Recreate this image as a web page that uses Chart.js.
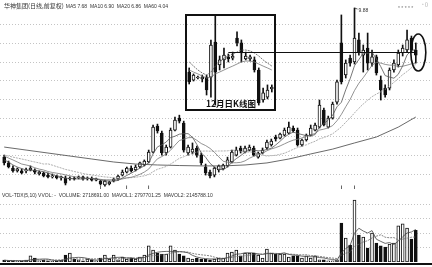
<!DOCTYPE html>
<html>
<head>
<meta charset="utf-8">
<script src="https://cdn.jsdelivr.net/npm/chart.js@4.4.1/dist/chart.umd.min.js"></script>
<style>
  html, body { margin: 0; padding: 0; background: #fff; }
  body { width: 432px; height: 267px; position: relative; overflow: hidden; }
  #main { position: absolute; left: 0; top: 0; }
  #vol { position: absolute; left: 0; top: 190px; }
  #inset { position: absolute; left: 185px; top: 14px; width: 87px; height: 93px; border: 2px solid #111; background: #fff; }
  #inset canvas { display: block; }
</style>
</head>
<body>
<canvas id="main" width="432" height="190"></canvas>
<canvas id="vol" width="432" height="77"></canvas>
<div id="inset"><canvas id="dec" width="87" height="93"></canvas></div>
<script>
// daily bars, price in yuan
const opens = [
  1.89, 1.58, 1.31, 1.15, 1.15, 1.15, 1.20, 1.20, 0.99, 1.04,
  0.93, 0.83, 0.88, 0.77, 0.77, 0.72, 0.77, 0.77, 0.83, 0.72,
  0.77, 0.66, 0.61, 0.40, 0.45, 0.61, 0.72, 0.93, 1.09, 1.31,
  1.20, 1.36, 1.47, 1.63, 2.16, 3.56, 3.18, 2.11, 2.43, 3.34,
  3.98, 3.72, 2.11, 2.16, 2.38, 2.00, 1.36, 1.09, 0.93, 1.20,
  1.26, 1.42, 1.63, 2.00, 2.38, 2.16, 2.27, 2.38, 1.89, 2.11,
  2.38, 2.54, 2.97, 2.91, 3.07, 3.18, 3.45, 3.34, 2.54, 2.81,
  3.07, 3.34, 3.50, 4.41, 3.50, 3.98, 4.84, 8.01, 6.29, 7.20,
  6.99, 8.17, 7.36, 7.74, 6.93, 7.26, 6.02, 5.59, 5.59, 6.56,
  6.83, 7.47, 7.63, 8.27, 7.63,
];
const highs = [
  2.00, 1.68, 1.42, 1.31, 1.26, 1.31, 1.42, 1.26, 1.15, 1.09,
  1.04, 0.99, 0.93, 0.88, 0.88, 0.83, 0.83, 0.88, 0.88, 0.83,
  0.83, 0.77, 0.66, 0.66, 0.61, 0.77, 0.93, 1.20, 1.36, 1.42,
  1.47, 1.63, 1.74, 2.27, 3.61, 3.66, 3.29, 2.54, 3.45, 4.04,
  4.14, 3.82, 2.54, 2.65, 2.48, 2.11, 1.52, 1.20, 1.36, 1.47,
  1.52, 1.89, 2.27, 2.43, 2.48, 2.48, 2.54, 2.48, 2.16, 2.38,
  2.81, 2.86, 3.07, 3.18, 3.45, 3.77, 3.56, 3.45, 2.86, 3.13,
  3.61, 3.72, 4.95, 4.52, 4.09, 4.84, 6.02, 9.51, 7.10, 7.36,
  9.88, 8.54, 7.90, 8.54, 7.63, 7.36, 6.24, 5.76, 6.67, 7.10,
  7.63, 7.90, 8.70, 8.38, 8.01,
];
const lows = [
  1.47, 1.31, 1.09, 1.09, 0.99, 1.04, 1.15, 0.99, 0.93, 0.83,
  0.77, 0.77, 0.72, 0.66, 0.40, 0.66, 0.66, 0.72, 0.66, 0.66,
  0.61, 0.61, 0.40, 0.34, 0.40, 0.56, 0.66, 0.88, 1.04, 1.09,
  1.15, 1.31, 1.42, 1.58, 2.11, 3.18, 2.00, 2.00, 2.38, 3.29,
  3.72, 2.16, 2.00, 2.06, 1.89, 1.47, 0.93, 0.77, 0.83, 1.09,
  1.20, 1.36, 1.58, 1.95, 2.11, 2.11, 2.22, 1.95, 1.84, 2.06,
  2.32, 2.48, 2.75, 2.86, 3.02, 3.13, 3.23, 2.48, 2.48, 2.75,
  3.02, 3.29, 3.45, 3.56, 3.45, 3.93, 4.73, 5.81, 6.13, 6.77,
  6.88, 7.36, 6.45, 6.56, 6.77, 6.29, 4.95, 5.11, 5.49, 6.45,
  6.72, 7.31, 7.52, 7.52, 6.93,
];
const closes = [
  1.58, 1.36, 1.15, 1.26, 1.04, 1.20, 1.31, 1.09, 1.09, 0.88,
  0.83, 0.88, 0.77, 0.83, 0.50, 0.77, 0.72, 0.83, 0.72, 0.77,
  0.66, 0.72, 0.45, 0.61, 0.56, 0.72, 0.88, 1.09, 1.31, 1.15,
  1.36, 1.58, 1.68, 2.16, 3.50, 3.29, 2.11, 2.43, 3.34, 3.88,
  3.82, 2.27, 2.43, 2.32, 2.00, 1.58, 1.04, 0.88, 1.31, 1.42,
  1.47, 1.74, 2.16, 2.27, 2.22, 2.38, 2.43, 2.00, 2.11, 2.27,
  2.70, 2.75, 2.86, 3.13, 3.34, 3.50, 3.29, 2.54, 2.81, 3.07,
  3.45, 3.61, 4.68, 3.61, 3.98, 4.73, 5.92, 5.92, 6.93, 6.93,
  8.27, 7.52, 7.63, 6.93, 7.26, 6.40, 5.49, 5.22, 6.56, 6.93,
  7.47, 7.74, 8.17, 7.63, 7.36,
];
// volume in 万股
const volumes = [
  17, 9, 9, 7, 9, 17, 52, 34, 10, 17,
  10, 8, 10, 17, 60, 77, 26, 18, 10, 26,
  18, 10, 34, 60, 26, 60, 18, 43, 26, 34,
  26, 43, 60, 138, 103, 77, 69, 69, 138, 103,
  69, 52, 34, 26, 34, 26, 26, 18, 26, 34,
  34, 77, 86, 103, 52, 77, 77, 77, 60, 34,
  112, 77, 69, 69, 69, 43, 52, 52, 34, 52,
  34, 52, 18, 18, 10, 10, 18, 335, 206, 146,
  533, 232, 215, 120, 249, 163, 138, 129, 155, 163,
  310, 327, 292, 198, 272,
];
const ma5 = [
  1.74, 1.63, 1.47, 1.36, 1.28, 1.20, 1.19, 1.18, 1.15, 1.11,
  1.04, 0.95, 0.89, 0.84, 0.76, 0.75, 0.72, 0.73, 0.71, 0.76,
  0.74, 0.74, 0.66, 0.64, 0.60, 0.61, 0.64, 0.77, 0.91, 1.03,
  1.16, 1.30, 1.42, 1.59, 2.06, 2.44, 2.55, 2.70, 2.94, 3.01,
  3.12, 3.15, 3.15, 2.95, 2.57, 2.12, 1.88, 1.56, 1.36, 1.24,
  1.22, 1.36, 1.62, 1.81, 1.97, 2.15, 2.29, 2.26, 2.23, 2.24,
  2.30, 2.37, 2.54, 2.74, 2.96, 3.12, 3.23, 3.16, 3.10, 3.04,
  3.03, 3.10, 3.52, 3.69, 3.87, 4.13, 4.59, 4.83, 5.50, 6.09,
  6.79, 7.12, 7.46, 7.46, 7.52, 7.15, 6.74, 6.26, 6.18, 6.12,
  6.33, 6.78, 7.37, 7.59, 7.67,
];
const ma10 = [
  1.95, 1.84, 1.74, 1.63, 1.52, 1.47, 1.41, 1.32, 1.25, 1.20,
  1.12, 1.07, 1.03, 0.99, 0.94, 0.89, 0.84, 0.81, 0.77, 0.76,
  0.74, 0.73, 0.70, 0.67, 0.68, 0.67, 0.69, 0.72, 0.78, 0.81,
  0.88, 0.97, 1.09, 1.25, 1.54, 1.80, 1.92, 2.06, 2.26, 2.53,
  2.78, 2.85, 2.93, 2.94, 2.79, 2.62, 2.51, 2.36, 2.15, 1.91,
  1.67, 1.62, 1.59, 1.59, 1.61, 1.69, 1.83, 1.94, 2.02, 2.10,
  2.23, 2.33, 2.40, 2.49, 2.60, 2.71, 2.80, 2.85, 2.92, 3.00,
  3.08, 3.16, 3.34, 3.39, 3.46, 3.58, 3.84, 4.18, 4.59, 4.98,
  5.46, 5.85, 6.15, 6.48, 6.81, 6.97, 6.93, 6.86, 6.82, 6.82,
  6.74, 6.76, 6.82, 6.89, 6.90,
];
const ma20 = [
  2.00, 1.95, 1.89, 1.84, 1.79, 1.74, 1.68, 1.63, 1.58, 1.52,
  1.53, 1.46, 1.38, 1.31, 1.23, 1.18, 1.12, 1.07, 1.01, 0.97,
  0.93, 0.90, 0.86, 0.83, 0.81, 0.78, 0.76, 0.76, 0.77, 0.79,
  0.81, 0.85, 0.89, 0.96, 1.11, 1.24, 1.31, 1.39, 1.52, 1.67,
  1.83, 1.91, 2.01, 2.10, 2.16, 2.21, 2.22, 2.21, 2.21, 2.22,
  2.22, 2.23, 2.26, 2.26, 2.20, 2.15, 2.17, 2.15, 2.08, 2.00,
  1.95, 1.97, 1.99, 2.04, 2.10, 2.20, 2.31, 2.40, 2.47, 2.55,
  2.65, 2.74, 2.87, 2.94, 3.03, 3.14, 3.32, 3.51, 3.76, 3.99,
  4.26, 4.51, 4.74, 4.94, 5.13, 5.27, 5.39, 5.52, 5.71, 5.90,
  6.10, 6.31, 6.48, 6.68, 6.85,
];
// MA60 read every 5 days
const ma60Days = [1, 6, 11, 16, 21, 26, 31, 36, 41, 46, 51, 56, 61, 66, 71, 76, 81, 86, 91, 95];
const ma60 = [2.43, 2.27, 2.11, 1.95, 1.79, 1.63, 1.52, 1.47, 1.44, 1.42, 1.42, 1.47, 1.58, 1.79, 2.06, 2.32, 2.65, 2.97, 3.50, 4.04];
const mavol1 = [
  15, 13, 12, 11, 10, 10, 19, 24, 24, 26,
  25, 16, 11, 12, 21, 34, 38, 40, 38, 31,
  20, 16, 20, 30, 30, 38, 40, 41, 35, 36,
  29, 34, 38, 60, 74, 84, 89, 91, 91, 91,
  90, 86, 79, 57, 43, 34, 29, 26, 26, 26,
  28, 38, 51, 67, 70, 79, 79, 77, 69, 65,
  72, 72, 70, 72, 79, 65, 60, 57, 50, 47,
  45, 45, 38, 35, 26, 22, 15, 78, 116, 143,
  248, 290, 266, 249, 270, 196, 177, 160, 167, 150,
  179, 217, 249, 258, 280,
];
const mavol2 = [
  14, 13, 13, 12, 11, 11, 14, 17, 17, 18,
  18, 18, 18, 18, 24, 30, 27, 26, 25, 26,
  27, 27, 30, 34, 31, 29, 28, 31, 33, 33,
  34, 37, 40, 48, 55, 57, 62, 65, 76, 83,
  87, 88, 85, 74, 67, 62, 58, 53, 42, 35,
  31, 34, 39, 47, 48, 54, 59, 64, 68, 68,
  76, 76, 74, 71, 72, 69, 66, 64, 61, 63,
  55, 53, 48, 43, 37, 34, 30, 58, 76, 85,
  135, 153, 172, 183, 207, 222, 234, 213, 208, 210,
  188, 197, 205, 213, 215,
];

// december close-up shown in the box
const decOpens = [6.45, 6.02, 6.13, 6.08, 6.18, 6.18, 8.06, 6.83, 7.10, 7.26, 7.20, 8.27, 8.01, 7.15, 7.15, 7.10, 6.56, 4.95, 5.11, 5.54];
const decHighs = [6.67, 6.35, 6.24, 6.29, 6.29, 8.17, 9.51, 7.31, 7.74, 7.42, 7.52, 8.60, 8.17, 7.52, 7.36, 7.26, 6.67, 5.59, 5.76, 5.76];
const decLows = [5.81, 5.97, 6.08, 5.92, 5.22, 5.11, 4.68, 6.56, 6.67, 6.99, 7.10, 7.85, 6.99, 7.10, 7.04, 6.45, 4.68, 4.84, 5.01, 5.38];
const decCloses = [5.92, 6.29, 6.18, 6.18, 5.49, 7.90, 6.45, 7.10, 7.36, 7.15, 7.31, 8.01, 7.47, 7.31, 7.26, 6.56, 4.79, 5.33, 5.49, 5.65];
const decMaFast = [6.99, 6.77, 6.56, 6.40, 6.29, 6.45, 6.77, 6.99, 7.20, 7.31, 7.42, 7.52, 7.63, 7.63, 7.58, 7.47, 7.31, 7.10, 6.93, 6.77];
const decMaSlow = [6.56, 6.45, 6.35, 6.24, 6.13, 6.18, 6.35, 6.45, 6.56, 6.67, 6.77, 6.88, 6.99, 7.04, 7.04, 6.99, 6.88, 6.77, 6.67, 6.56];

const priceGrid = [1, 2, 3, 4, 5, 6, 7, 8, 9];
const volGrid = [125, 250, 375, 500];
const markLevel = 7.52;
const signalDays = [23, 29, 34, 78, 81];

const titleText = "华神集团(日线,前复权)";
const maText = "MA5 7.68  MA10 6.90  MA20 6.86  MA60 4.04";
const volText = "VOL-TDX(5,10) VVOL: -  VOLUME: 2718691.00  MAVOL1: 2797701.25  MAVOL2: 2145788.10";
const boxTitle = "12月日K线图";

const INK = "#111";
const days = closes.map((c, i) => String(i + 1));
const decDays = decCloses.map((c, i) => "12-" + (i + 1));

let candle_sets = (o, h, l, c) => [
  {
    type: "bar",
    data: o.map((v, i) => [v, c[i]]),
    backgroundColor: o.map((v, i) => (c[i] >= v ? "#fff" : INK)),
    borderColor: INK,
    borderWidth: 1,
    borderSkipped: false,
    barThickness: 3,
    minBarLength: 1,
    grouped: false,
    order: 1,
  },
  {
    type: "bar",
    data: l.map((v, i) => [v, h[i]]),
    backgroundColor: INK,
    barThickness: 1,
    grouped: false,
    order: 2,
  },
];

let ma_line = (data, color, dash) => ({
  type: "line",
  data: data,
  borderColor: color,
  borderWidth: 0.8,
  borderDash: dash || [],
  pointRadius: 0,
  tension: 0,
  spanGaps: true,
  order: 0,
});

let dotted_grid = (values) => ({
  id: "dottedGrid",
  beforeDatasetsDraw(chart) {
    const { ctx } = chart;
    const y = chart.scales.y;
    ctx.save();
    ctx.strokeStyle = "#c4c4c4";
    ctx.lineWidth = 1;
    ctx.setLineDash([1, 2]);
    values.forEach((v) => {
      const py = Math.round(y.getPixelForValue(v)) + 0.5;
      ctx.beginPath();
      ctx.moveTo(0, py);
      ctx.lineTo(chart.width, py);
      ctx.stroke();
    });
    ctx.restore();
  },
});

let base_options = (yMin, yMax, padding) => ({
  responsive: false,
  animation: false,
  devicePixelRatio: 1,
  events: [],
  layout: { padding: padding },
  plugins: { legend: { display: false }, tooltip: { enabled: false } },
  scales: {
    x: { display: false },
    y: { display: false, min: yMin, max: yMax },
  },
});

let main_marks = {
  id: "mainMarks",
  afterDatasetsDraw(chart) {
    const { ctx } = chart;
    const { x, y } = chart.scales;
    ctx.save();
    ctx.fillStyle = "#333";
    ctx.font = '6px "Noto Sans CJK SC"';
    ctx.fillText(titleText, 4, 8);
    const tw = ctx.measureText(titleText).width;
    ctx.font = '5px "Liberation Sans"';
    ctx.fillText(maText, 6 + tw, 8);
    ctx.fillStyle = "#777";
    ctx.fillText("* * * * *", 398, 10);
    ctx.fillText("◦ ▯", 422, 6);

    // highest price label
    const top = highs.indexOf(Math.max(...highs));
    const hx = x.getPixelForValue(top);
    const hy = y.getPixelForValue(highs[top]);
    ctx.strokeStyle = "#333";
    ctx.lineWidth = 0.8;
    ctx.beginPath();
    ctx.moveTo(hx, hy);
    ctx.lineTo(hx + 3, hy + 1);
    ctx.stroke();
    ctx.fillStyle = "#333";
    ctx.font = '5px "Liberation Sans"';
    ctx.fillText(highs[top].toFixed(2), hx + 4, hy + 4);

    // level line and circled last bars
    const last = closes.length - 1;
    const ly = Math.round(y.getPixelForValue(markLevel)) + 0.5;
    ctx.strokeStyle = INK;
    ctx.lineWidth = 1.2;
    ctx.beginPath();
    ctx.moveTo(x.getPixelForValue(61), ly);
    ctx.lineTo(x.getPixelForValue(last), ly);
    ctx.stroke();
    ctx.lineWidth = 1.6;
    ctx.beginPath();
    ctx.ellipse(x.getPixelForValue(last) + 2.5, ly, 7.5, 18.5, 0, 0, Math.PI * 2);
    ctx.stroke();

    ctx.fillStyle = "#222";
    ctx.font = 'bold 5px "Liberation Sans"';
    ctx.textAlign = "center";
    signalDays.forEach((d) => {
      ctx.fillText("i", x.getPixelForValue(d - 1), chart.chartArea.bottom - 1);
    });
    ctx.restore();
  },
};

let vol_marks = {
  id: "volMarks",
  afterDatasetsDraw(chart) {
    const { ctx, chartArea } = chart;
    ctx.save();
    ctx.fillStyle = "#333";
    ctx.font = '5px "Liberation Sans"';
    ctx.fillText(volText, 2, 7);
    ctx.fillStyle = INK;
    ctx.fillRect(0, chartArea.bottom + 1, chart.width, 2);
    ctx.restore();
  },
};

let dec_marks = {
  id: "decMarks",
  afterDatasetsDraw(chart) {
    const { ctx } = chart;
    const { x, y } = chart.scales;
    ctx.save();
    const ly = Math.round(y.getPixelForValue(markLevel)) + 0.5;
    ctx.strokeStyle = INK;
    ctx.lineWidth = 1.2;
    ctx.beginPath();
    ctx.moveTo(x.getPixelForValue(9), ly);
    ctx.lineTo(chart.width, ly);
    ctx.stroke();
    ctx.fillStyle = INK;
    ctx.font = 'bold 8.5px "Noto Sans CJK SC"';
    ctx.textAlign = "center";
    ctx.fillText(boxTitle, 44, 91);
    ctx.restore();
  },
};

new Chart(document.getElementById("main"), {
  type: "bar",
  data: {
    labels: days,
    datasets: [
      ma_line(ma5, "#555"),
      ma_line(ma10, "#777"),
      ma_line(ma20, "#999", [2, 1]),
      ma_line(ma60Days.map((d, k) => ({ x: String(d), y: ma60[k] })), "#444"),
      ...candle_sets(opens, highs, lows, closes),
    ],
  },
  options: base_options(0.129, 10.311, { left: 2, right: 14, top: 0, bottom: 0 }),
  plugins: [dotted_grid(priceGrid), main_marks],
});

new Chart(document.getElementById("vol"), {
  type: "bar",
  data: {
    labels: days,
    datasets: [
      ma_line(mavol1, "#444"),
      ma_line(mavol2, "#666", [2, 1]),
      {
        type: "bar",
        data: volumes,
        backgroundColor: volumes.map((v, i) => (closes[i] >= opens[i] ? "#fff" : INK)),
        borderColor: INK,
        borderWidth: 1,
        borderSkipped: false,
        barThickness: 3,
        order: 1,
      },
    ],
  },
  options: base_options(0, 550, { left: 2, right: 14, top: 8, bottom: 5 }),
  plugins: [dotted_grid(volGrid), vol_marks],
});

new Chart(document.getElementById("dec"), {
  type: "bar",
  data: {
    labels: decDays,
    datasets: [
      ma_line(decMaFast, "#555", [2, 1]),
      ma_line(decMaSlow, "#777"),
      ...candle_sets(decOpens, decHighs, decLows, decCloses),
    ],
  },
  options: base_options(4.47, 9.454, 0),
  plugins: [dotted_grid([5, 6, 7, 8, 9]), dec_marks],
});
</script>
</body>
</html>
